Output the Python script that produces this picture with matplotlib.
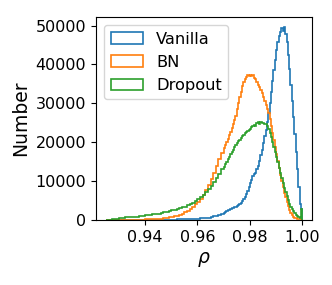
import numpy as np
import matplotlib
matplotlib.use("Agg")
import matplotlib.pyplot as plt

# bin edges: coarse on the flat left tail, finer where the curves are steep
edges = np.concatenate([
    np.linspace(0.925, 0.945, 9)[:-1],
    np.linspace(0.945, 0.970, 26)[:-1],
    np.linspace(0.970, 1.000, 61),
])
centers = (edges[:-1] + edges[1:]) / 2

# counts per bin
vanilla = [
    0, 5, 10, 15, 20, 30, 40, 50,
    60, 70, 80, 90, 100, 110, 125, 140, 155, 170, 190, 210, 240, 270, 310,
    350, 400, 460, 540, 640, 780, 950, 1150, 1400, 1650,
    1850, 2050, 2250, 2450, 2650, 2800, 3000, 3150, 3300, 3450,
    3650, 3900, 4150, 4400, 4800, 5300, 5900, 6600, 7400, 8400,
    9400, 10300, 11200, 11800, 12200, 13000, 14000, 15200, 16600, 18100,
    19700, 21500, 23200, 25300, 27600, 30000, 32800, 35800, 38500, 41200,
    43800, 45800, 47300, 48400, 49300, 48500, 49700, 47800, 45800, 42500,
    38800, 34800, 30500, 26500, 22000, 17500, 13000, 8500, 4200, 2800,
]
bn = [
    10, 20, 30, 50, 70, 100, 150, 220,
    280, 350, 430, 530, 650, 790, 950, 1150, 1350, 1650, 1950, 2400, 2850,
    3400, 4000, 4700, 5500, 6500, 7700, 9000, 10500, 12100, 13800, 15600, 17200,
    18500, 19300, 20100, 20900, 21800, 22600, 23600, 24600, 25700, 26700,
    28600, 30000, 31600, 33000, 34400, 35400, 36200, 36700, 37300, 37100,
    37400, 37000, 37200, 36600, 36200, 35500, 34800, 34100, 33400, 32700,
    31700, 30700, 29600, 28600, 27500, 25900, 24200, 22400, 20500, 18700,
    16900, 15100, 13400, 11700, 10100, 8500, 7000, 5800, 4700, 3600,
    2700, 1900, 1300, 900, 600, 450, 350, 250, 150, 100,
]
dropout = [
    100, 250, 450, 650, 850, 1050, 1250, 1500,
    1650, 1800, 1950, 2150, 2300, 2550, 2700, 2900, 3100, 3250, 3450, 3750,
    4050, 4400, 4850, 5300, 5800, 6400, 7100, 7900, 8700, 9700, 10700, 11900, 13000,
    13700, 14400, 15000, 15700, 16300, 16900, 17600, 18100, 18700, 19200,
    19800, 20300, 20700, 21100, 21500, 21900, 22300, 22600, 22900, 23100,
    23500, 23800, 24200, 24500, 24300, 24900, 25100, 24700, 25300, 24900,
    25000, 24600, 24800, 24300, 23500, 22400, 21300, 20000, 18700, 17400,
    16100, 14800, 13500, 12100, 10800, 9500, 8300, 7100, 6100, 5100,
    4200, 3400, 2800, 2200, 1700, 1300, 1000, 700, 500, 2800,
]
labels = ["Vanilla", "BN", "Dropout"]

fig = plt.figure(figsize=(3.32, 2.85), dpi=100)
ax = fig.add_axes([0.289, 0.228, 0.651, 0.712])

for counts, lab in zip([vanilla, bn, dropout], labels):
    ax.hist(centers, bins=edges, weights=counts, histtype="step",
            linewidth=1.2, label=lab)

ax.set_xticks([0.94, 0.96, 0.98, 1.00])
ax.set_yticks([0, 10000, 20000, 30000, 40000, 50000])
ax.tick_params(labelsize=11.5)
ax.set_xlabel(r"$\rho$", fontsize=13.5)
ax.set_ylabel("Number", fontsize=13.5)
ax.legend(loc="upper left", fontsize=11.7)

fig.savefig("out.png", dpi=100)
